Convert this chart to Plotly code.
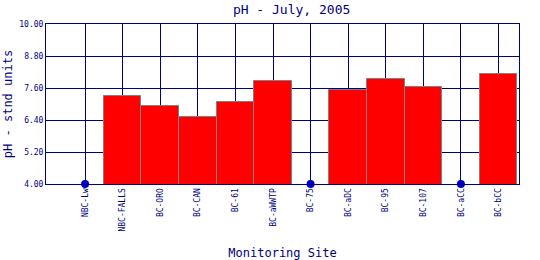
import plotly.graph_objects as go

sites = ["NBC-Lw", "NBC-FALLS", "BC-ORO", "BC-CAN", "BC-61", "BC-aWWTP",
         "BC-75", "BC-aDC", "BC-95", "BC-107", "BC-aCC", "BC-bCC"]
ph = [None, 7.29, 6.92, 6.51, 7.07, 7.85, None, 7.53, 7.92, 7.64, None, 8.11]
y_ticks = [4.00, 5.20, 6.40, 7.60, 8.80, 10.00]

NAVY = "#000080"
FONT = "DejaVu Sans Mono"

idx = list(range(len(sites)))
bar_x = [i for i, v in zip(idx, ph) if v is not None]
bar_y = [v for v in ph if v is not None]
miss_x = [i for i, v in zip(idx, ph) if v is None]
miss_y = [y_ticks[0] for _ in miss_x]

fig = go.Figure()
fig.add_trace(go.Bar(x=bar_x, y=bar_y, width=1.0,
                     marker=dict(color="#ff0000", line=dict(color="#808080", width=1)),
                     showlegend=False))
fig.add_trace(go.Scatter(x=miss_x, y=miss_y, mode="markers",
                         marker=dict(color="#0000cc", size=8),
                         cliponaxis=False, showlegend=False))

fig.update_layout(
    width=540, height=260,
    margin=dict(l=46, r=21, t=24, b=76),
    paper_bgcolor="white", plot_bgcolor="white",
    font=dict(family=FONT, color=NAVY),
    title=dict(text="pH - July, 2005", x=0.54, xanchor="center", y=0.965, yanchor="middle",
               font=dict(family=FONT, size=13, color=NAVY)),
    bargap=0,
)
fig.update_xaxes(
    range=[-1.04, 11.545], tickmode="array", tickvals=idx, ticktext=sites,
    tickangle=-90, tickfont=dict(family=FONT, size=8, color=NAVY),
    showgrid=True, gridcolor=NAVY, gridwidth=1,
    showline=True, linecolor=NAVY, linewidth=1, mirror=True,
    ticks="", zeroline=False, automargin=False,
    title=dict(text="Monitoring Site", font=dict(family=FONT, size=12, color=NAVY), standoff=18),
)
fig.update_yaxes(
    range=[4, 10], tickmode="array", tickvals=y_ticks,
    ticktext=["%.2f" % t for t in y_ticks],
    tickfont=dict(family=FONT, size=8, color=NAVY),
    showgrid=True, gridcolor=NAVY, gridwidth=1,
    showline=True, linecolor=NAVY, linewidth=1, mirror=True,
    ticks="", zeroline=False, automargin=False,
    title=dict(text="pH - stnd units", font=dict(family=FONT, size=12, color=NAVY), standoff=4),
)

fig.write_html("out.html")
